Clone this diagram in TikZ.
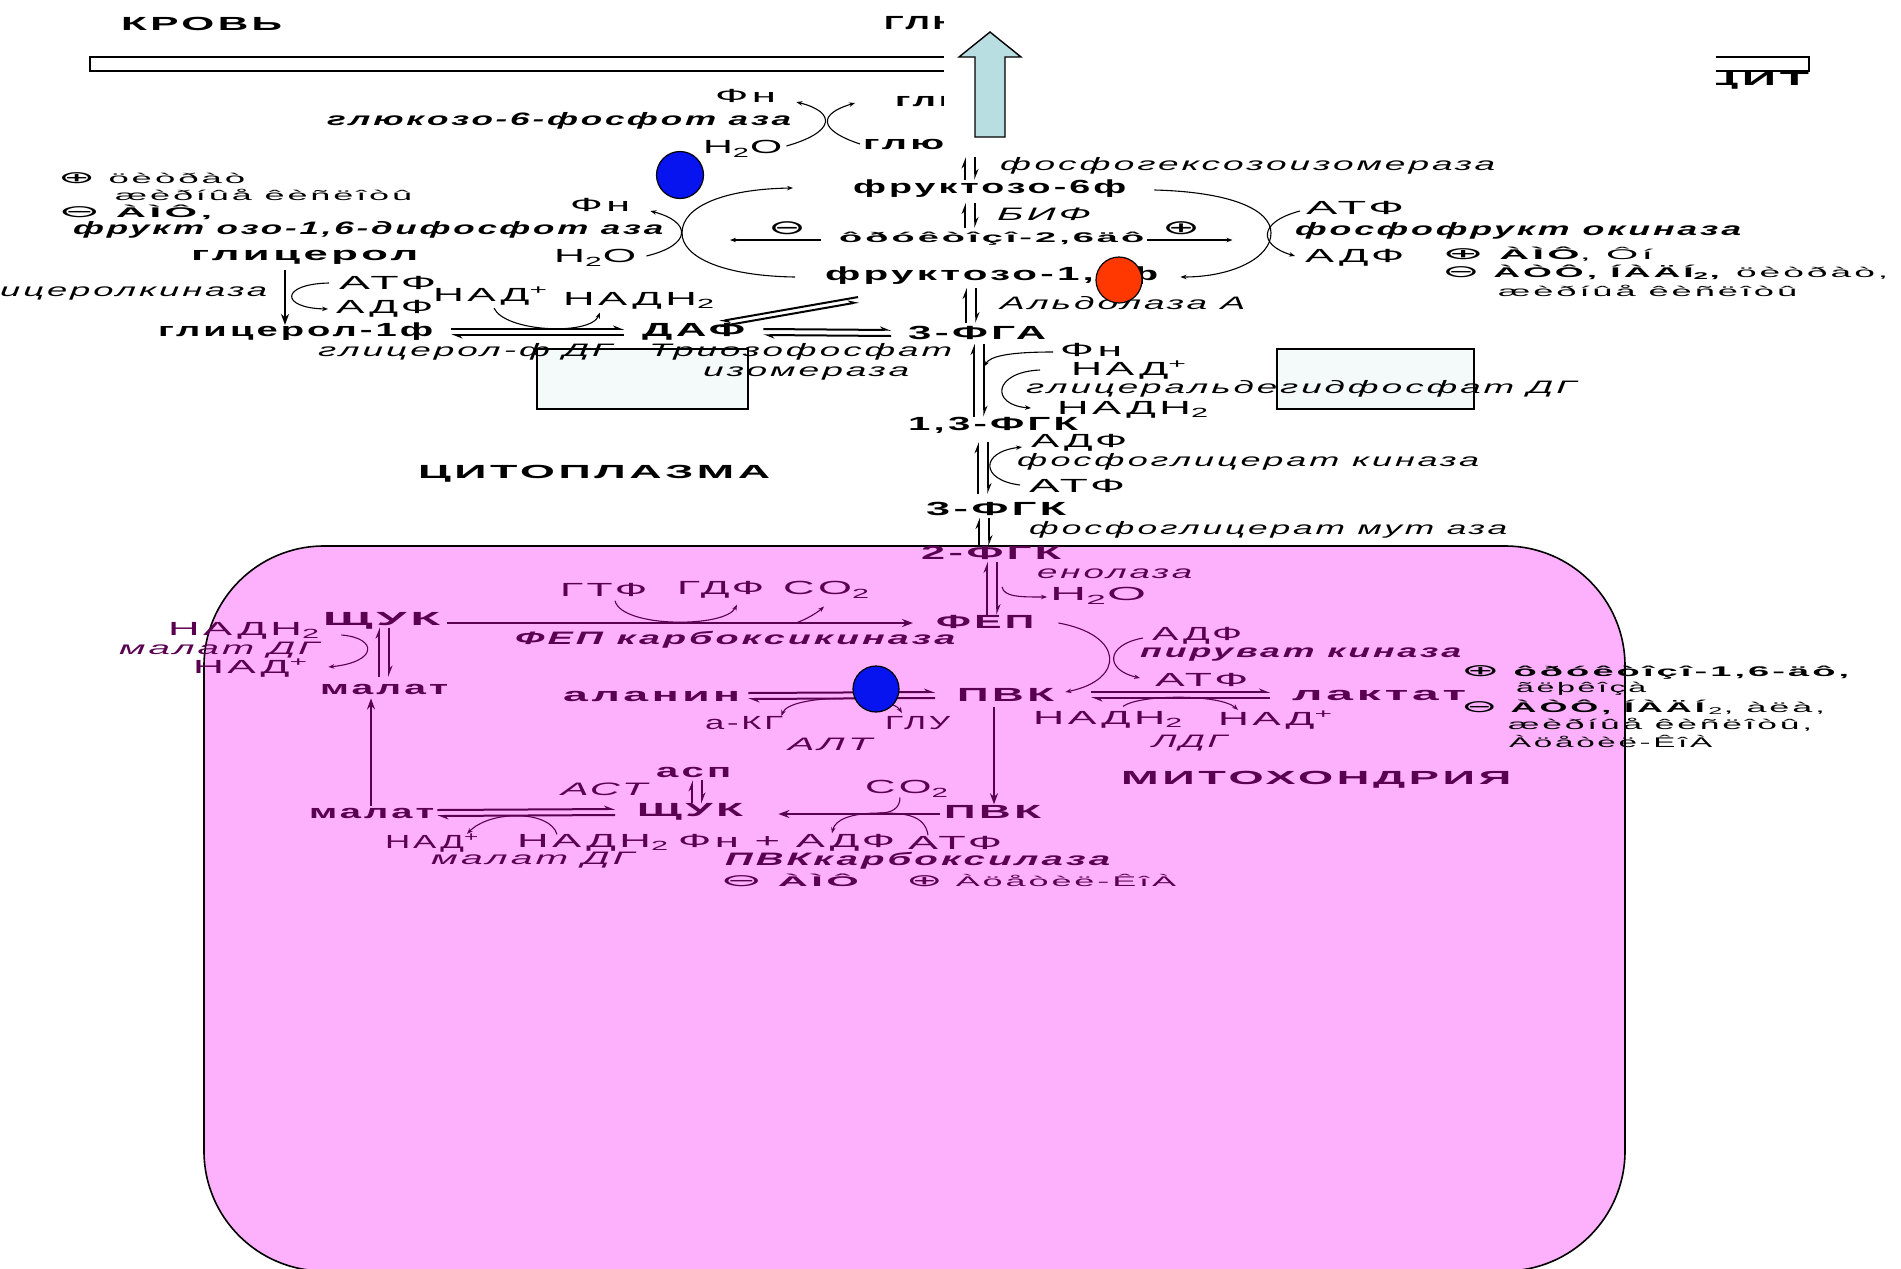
\documentclass[tikz,border=0pt]{standalone}
\usepackage{fontspec}
\setmainfont[LetterSpace=8]{Liberation Sans}
\newfontfamily\dv{DejaVu Sans}
\usepackage{graphicx}
\usetikzlibrary{arrows.meta,calc}
\definecolor{mp}{RGB}{90,0,80}
\definecolor{mitoc}{RGB}{253,177,253}
\definecolor{boxc}{RGB}{244,249,250}
\definecolor{arrc}{RGB}{184,222,226}
\definecolor{bluec}{RGB}{8,20,240}
\definecolor{redc}{RGB}{255,55,0}
\newcommand\RW[2]{\resizebox{#1pt}{\height}{#2}}
\newcommand\FB{\fontsize{19}{21}\selectfont\bfseries}
\newcommand\FR{\fontsize{19}{21}\selectfont}
\newcommand\FI{\fontsize{18}{20}\selectfont\itshape}
\newcommand\FBI{\fontsize{18}{20}\selectfont\bfseries\itshape}
\newcommand\FS{\fontsize{14}{15}\selectfont}
\newcommand\OP{{\dv\fontsize{17}{15}\selectfont ⊕}}
\newcommand\OM{{\dv\fontsize{17}{15}\selectfont ⊖}}
\newcommand\vp[5]{%
 \draw[hp] ($(#2.north -| #3)+(-5,#5)$) -- ($(#1.south -| #3)+(-5,#4)$);
 \draw[hp] ($(#1.south -| #3)+(5,#4)$) -- ($(#2.north -| #3)+(5,#5)$);}
\tikzset{
 t/.style={inner sep=0pt,anchor=west},
 cv/.style={line width=1.1pt,-{Stealth[length=6pt,width=4.5pt]}},
 cvb/.style={line width=1.1pt,{Stealth[length=6pt,width=4.5pt]}-{Stealth[length=6pt,width=4.5pt]}},
 cvn/.style={line width=1.1pt},
 hp/.style={line width=2pt,-{Stealth[harpoon,length=9pt,width=7pt]}},
 sa/.style={line width=2.2pt,-{Stealth[length=11pt,width=8pt]}},
}
\begin{document}
\begin{tikzpicture}[x=1pt,y=-1pt]
\useasboundingbox (0,0) rectangle (1901,1269);
\fill[white] (0,0) rectangle (1901,1269);
% membrane
\draw[line width=1.5pt,fill=white] (90,57) rectangle (1809,71);
% mitochondrion
\draw[line width=1.6pt,fill=mitoc,rounded corners=120pt] (204,546) rectangle (1625,1271);
% light boxes
\draw[line width=1.2pt,fill=boxc] (537,349) rectangle (748,409);
\draw[line width=1.2pt,fill=boxc] (1277,349) rectangle (1474,409);

% columns
\coordinate (k970) at (970,0);
\coordinate (k971) at (971,0);
\coordinate (k979) at (979,0);
\coordinate (k983) at (983,0);
\coordinate (k984) at (984,0);
\coordinate (k992) at (992,0);
\coordinate (k384) at (384,0);
\coordinate (k697) at (697,0);

% ---------- cytoplasm texts ----------
\node[t] (krov) at (121,24) {\RW{161}{\FB КРОВЬ}};
\node[t] (glTop) at (884,23) {\RW{84}{\FB ГЛЮ}};
\node[t] (citR) at (1703,81) {\RW{106}{\FB ЦИТ}};
\node[t] (gl2) at (895,101) {\RW{75}{\FB глю}};
\node[t] (glu) at (863,144) {\RW{81}{\FB глю}};
\node[t] (fn1) at (715,96) {\RW{61}{\FR Фн}};
\node[t] (g6p) at (327,121) {\RW{464}{\FBI глюкозо-6-фосфот аза}};
\node[t] (h2o1) at (703,149) {\RW{79}{\FR H\textsubscript{2}O}};
\node[t] (legA) at (58,178) {\RW{187}{\FS \OP\ öèòðàò}};
\node[t] (legB) at (115,195) {\RW{297}{\FS æèðíûå êèñëîòû}};
\node[t] (legC) at (58,212) {\RW{154}{\FS \OM\ \bfseries ÀÌÔ,}};
\node[t] (fbpase) at (73,230) {\RW{590}{\FBI фрукт озо-1,6-дифосфот аза}};
\node[t] (fn2) at (570,205) {\RW{60}{\FR Фн}};
\node[t] (h2o2) at (554,258) {\RW{82}{\FR H\textsubscript{2}O}};
\node[t] (glycerol) at (191,257) {\RW{227}{\FB глицерол}};
\node[t] (gk) at (0,294) {\RW{267}{\FI ицеролкиназа}};
\node[t] (atp1) at (339,283) {\RW{97}{\FR АТФ}};
\node[t] (adp1) at (336,309) {\RW{97}{\FR АДФ}};
\node[t] (nad1) at (433,296) {\RW{115}{\FR НАД\textsuperscript{+}}};
\node[t] (nadh1) at (563,301) {\RW{152}{\FR НАДН\textsubscript{2}}};
\node[t] (g1p) at (158,332) {\RW{275}{\FB глицерол-1ф}};
\node[t] (daf) at (642,332) {\RW{103}{\FB ДАФ}};
\node[t] (fga) at (908,333) {\RW{138}{\FB 3-ФГА}};
\node[t] (g3pdh) at (318,352) {\RW{294}{\FI глицерол-ф ДГ}};
\node[t] (tpi1) at (649,352) {\RW{303}{\FI Триозофосфат}};
\node[t] (tpi2) at (703,374) {\RW{206}{\FI изомераза}};
\node[t] (phi) at (1000,166) {\RW{495}{\FI фосфогексозоизомераза}};
\node[t] (f6p) at (853,189) {\RW{273}{\FB фруктозо-6ф}};
\node[t] (bif) at (997,214) {\RW{94}{\FI БИФ}};
\node[t] (f26) at (839,239) {\RW{305}{\FS\bfseries ôðóêòîçî-2,6äô}};
\node[inner sep=0pt] (inh) at (787,228) {\RW{38}{\dv\fontsize{20}{20}\selectfont ⊖}};
\node[inner sep=0pt] (act) at (1181,228) {\RW{38}{\dv\fontsize{20}{20}\selectfont ⊕}};
\node[t] (fbp) at (825,276) {\RW{333}{\FB фруктозо-1,6ф}};
\node[t] (atp2) at (1306,208) {\RW{98}{\FR АТФ}};
\node[t] (pfk) at (1295,231) {\RW{446}{\FBI фосфофрукт окиназа}};
\node[t] (adp2) at (1305,258) {\RW{99}{\FR АДФ}};
\node[t] (legD) at (1442,254) {\RW{211}{\FS \OP\ \textbf{ÀÌÔ}, Ôí}};
\node[t] (legE) at (1442,272) {\RW{446}{\FS \OM\ \textbf{ÀÒÔ, ÍÀÄÍ\textsubscript{2},} öèòðàò,}};
\node[t] (legF) at (1498,291) {\RW{299}{\FS æèðíûå êèñëîòû}};
\node[t] (aldo) at (1000,303) {\RW{245}{\FI Альдолаза А}};
\node[t] (fn3) at (1060,350) {\RW{62}{\FR Фн}};
\node[t] (nad2) at (1071,370) {\RW{116}{\FR НАД\textsuperscript{+}}};
\node[t] (gapdh) at (1026,389) {\RW{550}{\FI глицеральдегидфосфат ДГ}};
\node[t] (nadh2) at (1057,410) {\RW{152}{\FR НАДН\textsubscript{2}}};
\node[t] (bpg) at (908,425) {\RW{170}{\FB 1,3-ФГК}};
\node[t] (adp3) at (1031,443) {\RW{96}{\FR АДФ}};
\node[t] (pgk) at (1017,462) {\RW{462}{\FI фосфоглицерат киназа}};
\node[t] (atp3) at (1029,486) {\RW{96}{\FR АТФ}};
\node[t] (cyto) at (418,474) {\RW{352}{\FB ЦИТОПЛАЗМА}};
\node[t] (pg3) at (926,509) {\RW{140}{\FB 3-ФГК}};
\node[t] (pgm) at (1029,530) {\RW{478}{\FI фосфоглицерат мут аза}};

% right legend of mitochondrion
\node[t] (legG) at (1461,672) {\RW{391}{\FS \OP\ \textbf{ôðóêòîçî-1,6-äô,}}};
\node[t] (legH) at (1516,689) {\RW{130}{\FS ãëþêîçà}};
\node[t] (legI) at (1461,707) {\RW{364}{\FS \OM\ \textbf{ÀÒÔ, ÍÀÄÍ}\textsubscript{2}, àëà,}};
\node[t] (legJ) at (1508,725) {\RW{304}{\FS æèðíûå êèñëîòû,}};
\node[t] (legK) at (1509,741) {\RW{203}{\FS Àöåòèë-ÊîÀ}};

% cover at top and transport arrow
\fill[white] (944,0) rectangle (1716,154);
\draw[line width=1.4pt,fill=arrc] (975,137) -- (975,57) -- (959,57) -- (990,32) -- (1021,57) -- (1005,57) -- (1005,137) -- cycle;

% ---------- cytoplasm connectors ----------
\draw[cv] ($(h2o1.east)+(4,-3)$) .. controls (836,132) and (836,112) .. ($(fn1.east)+(20,6)$);
\draw[cv] ($(glu.west)+(-3,0)$) .. controls (818,130) and (818,114) .. ($(gl2.west)+(-40,2)$);
\draw[cv] ($(fbp.west)+(-30,1)$) .. controls (725,276) and (682,258) .. (682,233) .. controls (682,206) and (725,189) .. ($(f6p.west)+(-60,-1)$);
\draw[cv] ($(h2o2.east)+(10,-2)$) .. controls (692,245) and (692,222) .. ($(fn2.east)+(20,6)$);
\draw[cv] ($(f6p.east)+(28,1)$) .. controls (1232,192) and (1271,210) .. (1271,233) .. controls (1271,258) and (1232,277) .. ($(fbp.east)+(22,1)$);
\draw[cv] ($(atp2.west)+(-6,3)$) .. controls (1258,222) and (1258,245) .. ($(adp2.west)+(-10,-2)$);
\draw[cv] ($(f26.west)+(-18,1)$) -- ($(f26.west)+(-109,1)$);
\draw[cv] ($(f26.east)+(3,1)$) -- ($(f26.east)+(88,1)$);
\draw[sa] ($(glycerol.south west)+(94,6)$) -- ($(g1p.north west)+(127,2)$);
\draw[cv] ($(atp1.west)+(-10,0)$) .. controls (280,284) and (280,308) .. ($(adp1.west)+(-8,0)$);
\draw[cv] ($(nad1.south west)+(61,3)$) .. controls (505,332) and (590,336) .. ($(nadh1.south west)+(37,3)$);
\draw[cv] ($(fn3.west)+(-7,2)$) .. controls (1010,352) and (990,356) .. ($(bpg.north west)+(76,-50)$);
\draw[cv] ($(nad2.west)+(-31,0)$) .. controls (993,372) and (990,405) .. ($(nadh2.west)+(-26,-2)$);
\draw[cv] ($(atp3.west)+(-9,-1)$) .. controls (980,480) and (980,452) .. ($(adp3.west)+(-9,4)$);
\draw[hp] ($(g1p.east)+(18,-3)$) -- ($(daf.west)+(-18,-3)$);
\draw[hp] ($(daf.west)+(-18,3)$) -- ($(g1p.east)+(18,3)$);
\draw[hp] ($(daf.east)+(18,-3)$) -- ($(fga.west)+(-17,-3)$);
\draw[hp] ($(fga.west)+(-17,3)$) -- ($(daf.east)+(18,3)$);
\draw[hp] ($(fbp.south west)+(33,12)$) -- ($(daf.north east)+(-26,-2)$);
\draw[hp] ($(daf.north east)+(-25,3)$) -- ($(fbp.south west)+(34,17)$);
\vp{glu}{f6p}{k970}{8}{0}
\vp{f6p}{f26}{k970}{5}{-4}
\vp{fbp}{fga}{k971}{3}{-3}
\vp{fga}{bpg}{k979}{4}{0}
\vp{bpg}{pg3}{k983}{9}{-8}

% ---------- mitochondrion ----------
\begin{scope}[color=mp]
\node[t] (pg2) at (921,553) {\RW{140}{\FB 2-ФГК}};
\node[t] (eno) at (1037,574) {\RW{155}{\FI енолаза}};
\node[t] (h2o3) at (1050,596) {\RW{96}{\FR H\textsubscript{2}O}};
\node[t] (pep) at (936,622) {\RW{98}{\FB ФЕП}};
\node[t] (oaa1) at (323,621) {\RW{117}{\FB ЩУК}};
\node[t] (gtp) at (560,590) {\RW{87}{\FR ГТФ}};
\node[t] (gdp) at (677,590) {\RW{87}{\FR ГДФ}};
\node[t] (co2a) at (783,590) {\RW{87}{\FR CO\textsubscript{2}}};
\node[t] (pepck) at (515,640) {\RW{440}{\FBI ФЕП карбоксикиназа}};
\node[t] (nadh3) at (168,631) {\RW{152}{\FR НАДН\textsubscript{2}}};
\node[t] (mdh1) at (119,650) {\RW{200}{\FI малат ДГ}};
\node[t] (nad3) at (193,668) {\RW{115}{\FR НАД\textsuperscript{+}}};
\node[t] (mal1) at (320,689) {\RW{128}{\FB малат}};
\node[t] (ala) at (563,696) {\RW{177}{\FB аланин}};
\node[t] (pyr1) at (957,695) {\RW{97}{\FB ПВК}};
\node[t] (akg) at (705,723) {\RW{78}{\FR а-КГ}};
\node[t] (glu2) at (885,723) {\RW{65}{\FR ГЛУ}};
\node[t] (alt) at (788,744) {\RW{84}{\FI АЛТ}};
\node[t] (adp4) at (1152,636) {\RW{90}{\FR АДФ}};
\node[t] (pk) at (1140,655) {\RW{321}{\FBI пируват киназа}};
\node[t] (atp4) at (1155,680) {\RW{93}{\FR АТФ}};
\node[t] (lact) at (1292,695) {\RW{174}{\FB лактат}};
\node[t] (nadh4) at (1033,720) {\RW{150}{\FR НАДН\textsubscript{2}}};
\node[t] (nad4) at (1218,720) {\RW{115}{\FR НАД\textsuperscript{+}}};
\node[t] (ldh) at (1152,743) {\RW{75}{\FI ЛДГ}};
\node[t] (mito) at (1121,780) {\RW{390}{\FB МИТОХОНДРИЯ}};
\node[t] (asp) at (656,772) {\RW{75}{\FB асп}};
\node[t] (ast) at (561,789) {\RW{86}{\FI АСТ}};
\node[t] (mal2) at (309,813) {\RW{125}{\FB малат}};
\node[t] (oaa2) at (637,812) {\RW{106}{\FB ЩУК}};
\node[t] (pyr2) at (944,812) {\RW{97}{\FB ПВК}};
\node[t] (co2b) at (865,789) {\RW{84}{\FR CO\textsubscript{2}}};
\node[t] (nad5) at (385,843) {\RW{94}{\FR НАД\textsuperscript{+}}};
\node[t] (nadh5) at (517,843) {\RW{152}{\FR НАДН\textsubscript{2}}};
\node[t] (fnadp) at (678,843) {\RW{217}{\FR Фн + АДФ}};
\node[t] (atp5) at (908,843) {\RW{94}{\FR АТФ}};
\node[t] (mdh2) at (431,860) {\RW{203}{\FI малат ДГ}};
\node[t] (pc) at (725,861) {\RW{385}{\FBI ПВКкарбоксилаза}};
\node[t] (pcA) at (720,880) {\RW{142}{\FS \OM\ \textbf{ÀÌÔ}}};
\node[t] (pcB) at (906,880) {\RW{270}{\FS \OP\ Àöåòèë-ÊîÀ}};

\draw[cv] ($(pg2.south west)+(81,27)$) .. controls (1004,597) and (1020,597) .. ($(h2o3.west)+(-3,1)$);
\draw[sa] ($(oaa1.east)+(7,2)$) -- ($(pep.west)+(-23,1)$);
\draw[cv] ($(gtp.south west)+(55,4)$) .. controls (622,628) and (725,628) .. ($(gdp.south west)+(60,6)$);
\draw[cv] ($(co2a.south west)+(11,25)$) .. controls (806,620) and (818,612) .. ($(co2a.south west)+(41,8)$);
\draw[cv] ($(nadh3.east)+(21,4)$) .. controls (378,638) and (378,662) .. ($(nad3.east)+(20,-1)$);
\draw[sa] ($(mal2.north west)+(62,-2)$) -- ($(mal1.south west)+(51,4)$);
\draw[cvb] ($(akg.east)+(-2,-7)$) .. controls (790,694) and (890,694) .. ($(glu2.west)+(17,-10)$);
\draw[cv] ($(pep.east)+(24,1)$) .. controls (1125,635) and (1125,680) .. ($(pyr1.east)+(11,-3)$);
\draw[cv] ($(adp4.west)+(-9,2)$) .. controls (1105,645) and (1105,670) .. ($(atp4.west)+(-15,-2)$);
\draw[sa] ($(pyr1.south west)+(37,5)$) -- ($(pyr2.north west)+(50,-1)$);
\draw[cv] ($(nadh4.north west)+(90,-5)$) .. controls (1140,694) and (1220,694) .. ($(nad4.north west)+(20,-1)$);
\draw[sa] ($(pyr2.west)+(-4,2)$) -- ($(oaa2.east)+(35,2)$);
\draw[cvn] ($(co2b.south west)+(35,0)$) .. controls (900,808) and (892,813) .. ($(pyr2.west)+(-64,1)$);
\draw[cv] ($(atp5.north west)+(20,-1)$) .. controls (925,815) and (905,813) .. ($(pyr2.west)+(-64,1)$) .. controls (850,813) and (835,820) .. ($(fnadp.north west)+(154,-1)$);
\draw[cv] ($(nadh5.north west)+(40,0)$) .. controls (550,810) and (490,810) .. ($(nad5.north west)+(82,0)$);
\draw[hp] ($(ala.east)+(8,-3)$) -- ($(pyr1.west)+(-22,-3)$);
\draw[hp] ($(pyr1.west)+(-22,3)$) -- ($(ala.east)+(8,3)$);
\draw[hp] ($(pyr1.east)+(37,-3)$) -- ($(lact.west)+(-22,-3)$);
\draw[hp] ($(lact.west)+(-22,3)$) -- ($(pyr1.east)+(37,3)$);
\draw[hp] ($(mal2.east)+(3,-3)$) -- ($(oaa2.west)+(-22,-3)$);
\draw[hp] ($(oaa2.west)+(-22,3)$) -- ($(mal2.east)+(3,3)$);
\vp{pg2}{pep}{k992}{2}{0}
\vp{oaa1}{mal1}{k384}{-2}{-7}
\vp{asp}{oaa2}{k697}{3}{0}
\end{scope}
\vp{pg3}{pg2}{k984}{2}{0}

% markers
\draw[line width=1.2pt,fill=bluec] (680,175) circle[radius=23.5];
\draw[line width=1.2pt,fill=redc] (1119,280) circle[radius=23];
\draw[line width=1.2pt,fill=bluec] (876,689) circle[radius=23];
\end{tikzpicture}
\end{document}
